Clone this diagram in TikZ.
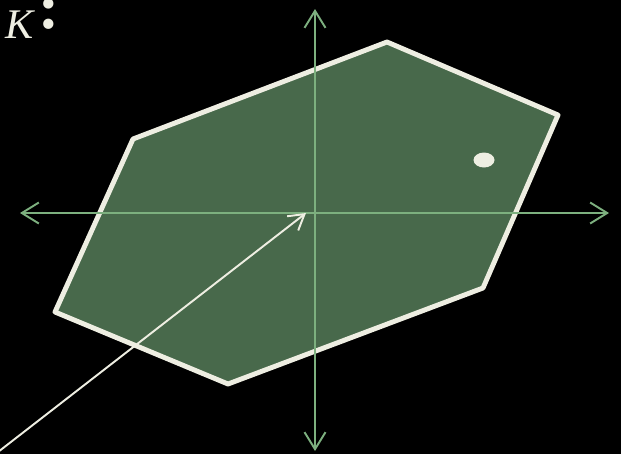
\documentclass[tikz,border=0pt]{standalone}
\usepackage{fontspec}
\usepackage{tikz}
\usetikzlibrary{arrows.meta}

\newfontfamily\labelfont{Liberation Serif}

\definecolor{bodygreen}{HTML}{48694B}
\definecolor{axisgreen}{HTML}{7DB07F}
\definecolor{cream}{HTML}{EEEEE2}

\begin{document}
\begin{tikzpicture}[
  x=0.02cm, y=-0.02cm,
  axis/.style={{Straight Barb[length=3.4mm, width=4.2mm]}-{Straight Barb[length=3.4mm, width=4.2mm]}, axisgreen, line width=1.1pt},
  body/.style={fill=bodygreen, draw=cream, line width=2.8pt, line join=round},
  pointer/.style={-{Straight Barb[length=3mm, width=3.6mm]}, cream, line width=1.1pt},
  label/.style={text=cream, font=\labelfont\fontsize{24}{26}\selectfont, inner sep=0pt}
]

% background
\useasboundingbox[fill=black] (0,0) rectangle (621,454);

% =========================
% Convex body
% =========================
\path[body] (133,139) -- (387,42) -- (558,115) -- (483,288) -- (228,384) -- (55,312) -- cycle;

\fill[cream] (484,160) ellipse [x radius=10.5, y radius=7.5];

% =========================
% Axes
% =========================
\coordinate (origin) at (315,213);
\coordinate (xleft) at (20,213);
\coordinate (xright) at (609,213);
\coordinate (ytop) at (315,9);
\coordinate (ybottom) at (315,451);

\draw[axis] (xleft) -- (xright);
\draw[axis] (ybottom) -- (ytop);

% pointer into the body
\coordinate (tail) at (-2,452);
\coordinate (head) at (306,213);
\draw[pointer] (tail) -- (head);

% label
\node[label, anchor=base west] (klabel) at (5,38) {\itshape K};
\node[label, font=\labelfont\bfseries\fontsize{36}{38}\selectfont] (kcolon) at (49,14) {:};

\end{tikzpicture}
\end{document}
